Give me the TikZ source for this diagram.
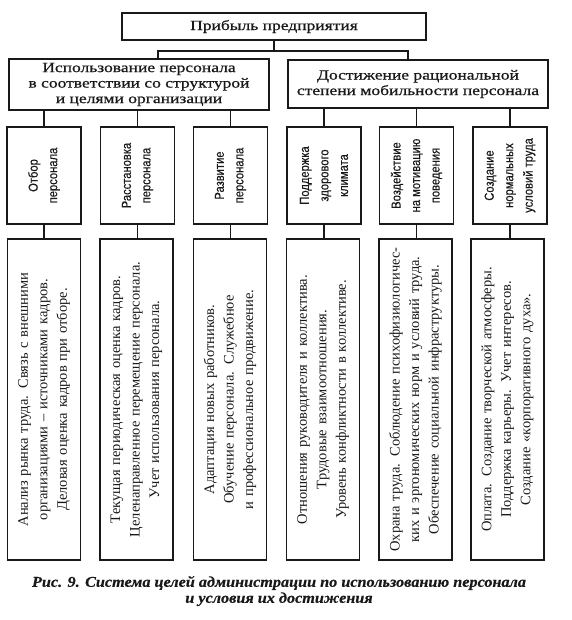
\documentclass[tikz,border=0pt]{standalone}
\usepackage{fontspec}
\usepackage{tikz}
\usetikzlibrary{positioning, calc}
\setmainfont{Liberation Serif}
\setsansfont{Liberation Sans}
\newfontfamily\headfont[FakeStretch=1.25, FakeBold=0.8]{Liberation Serif}
\newfontfamily\goalfont[FakeStretch=0.86, FakeBold=0.3]{Liberation Sans}
\newfontfamily\capfont[FakeStretch=1.08, FakeBold=0.5]{Liberation Serif}
\definecolor{myink}{RGB}{25,25,25}
\tikzset{
  headbox/.style={rectangle, draw=myink, text=myink, align=center,
    font=\headfont\fontsize{14}{15.5}\selectfont, line width=1.2pt, inner sep=2pt},
  goalbox/.style={rectangle, draw=myink, text=myink, rotate=90,
    minimum width=97pt, minimum height=74pt, align=center,
    font=\goalfont\fontsize{13}{19.5}\selectfont, line width=1.2pt},
  condbox/.style={rectangle, draw=myink, text=myink, rotate=90,
    minimum width=321pt, minimum height=73pt, text width=312pt, align=center,
    font=\fontsize{14.5}{19.5}\selectfont, line width=1.2pt},
  capt/.style={align=center, text=myink,
    font=\capfont\bfseries\itshape\fontsize{15}{16}\selectfont},
  line/.style={line width=1.2pt, color=myink}
}

\begin{document}
\begin{tikzpicture}[x=1pt, y=1pt]
  \useasboundingbox (0,0) rectangle (571,-620);

  % --- TOP LEVEL ---
  \node[headbox, minimum width=304pt, minimum height=27pt] (top) at (274,-26.5) {Прибыль предприятия};

  \node[headbox, minimum width=260pt, minimum height=51pt] (useL) at (139,-84.5) {Использование персонала\\в соответствии со структурой\\и целями организации};
  \node[headbox, minimum width=260pt, minimum height=48pt] (useR) at (418,-84) {Достижение рациональной\\степени мобильности персонала};

  \coordinate (busL) at (158,-51);
  \coordinate (busR) at (408,-51);
  \draw[line] (top.south) -- (top.south |- busL);
  \draw[line] (useL.north -| busL) |- (busR) -- (useR.north -| busR);

  % --- GOALS (rotated: east = top edge, west = bottom edge) ---
  \node[goalbox] (g1) at (44,-175.5) {Отбор\\персонала};
  \node[goalbox] (g2) at (137.5,-175.5) {Расстановка\\персонала};
  \node[goalbox] (g3) at (230.5,-175.5) {Развитие\\персонала};
  \node[goalbox] (g4) at (324,-175.5) {Поддержка\\здорового\\климата};
  \node[goalbox] (g5) at (416.5,-175.5) {Воздействие\\на мотивацию\\поведения};
  \node[goalbox] (g6) at (510,-175.5) {Создание\\нормальных\\условий труда};

  \draw[line] (g1.east) -- (g1.east |- useL.south);
  \draw[line] (g2.east) -- (g2.east |- useL.south);
  \draw[line] (g3.east) -- (g3.east |- useL.south);
  \draw[line] (g4.east) -- (g4.east |- useR.south);
  \draw[line] (g5.east) -- (g5.east |- useR.south);
  \draw[line] (g6.east) -- (g6.east |- useR.south);

  % --- CONDITIONS ---
  \node[condbox] (c1) at (44,-399.5) {Анализ рынка труда. Связь с внешними\\организациями -- источниками кадров.\\Деловая оценка кадров при отборе.};
  \node[condbox] (c2) at (136.5,-399.5) {Текущая периодическая оценка кадров.\\Целенаправленное перемещение персонала.\\Учет использования персонала.};
  \node[condbox] (c3) at (230,-399.5) {Адаптация новых работников.\\Обучение персонала. Служебное\\и профессиональное продвижение.};
  \node[condbox] (c4) at (323,-399.5) {Отношения руководителя и коллектива.\\Трудовые взаимоотношения.\\Уровень конфликтности в коллективе.};
  \node[condbox] (c5) at (415.5,-399.5) {Охрана труда. Соблюдение психофизиологичес-\\ких и эргономических норм и условий труда.\\Обеспечение социальной инфраструктуры.};
  \node[condbox] (c6) at (507.5,-399.5) {Оплата. Создание творческой атмосферы.\\Поддержка карьеры. Учет интересов.\\Создание «корпоративного духа».};

  \draw[line] (g1.west) -- (g1.west |- c1.east);
  \draw[line] (g2.west) -- (g2.west |- c2.east);
  \draw[line] (g3.west) -- (g3.west |- c3.east);
  \draw[line] (g4.west) -- (g4.west |- c4.east);
  \draw[line] (g5.west) -- (g5.west |- c5.east);
  \draw[line] (g6.west) -- (g6.west |- c6.east);

  % --- CAPTION ---
  \node[capt] (cap) at (279,-591) {Рис. 9. Система целей администрации по использованию персонала\\и условия их достижения};
\end{tikzpicture}
\end{document}
